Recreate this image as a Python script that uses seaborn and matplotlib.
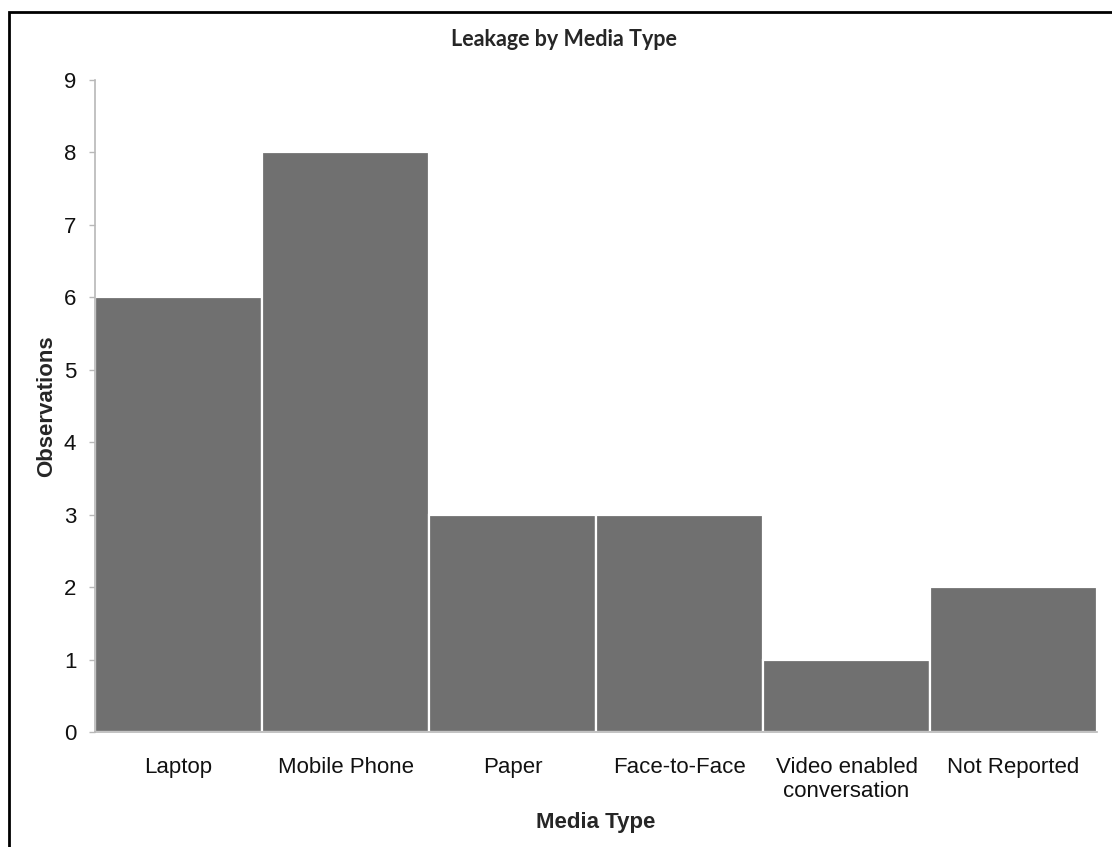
import matplotlib
matplotlib.use('Agg')
import matplotlib.pyplot as plt
import seaborn as sns
import pandas as pd
from matplotlib.patches import Rectangle

media_types = ['Laptop', 'Mobile Phone', 'Paper', 'Face-to-Face',
               'Video enabled\nconversation', 'Not Reported']
observations = [6, 8, 3, 3, 1, 2]
y_ticks = [0, 1, 2, 3, 4, 5, 6, 7, 8, 9]

df = pd.DataFrame({'media': media_types, 'obs': observations})

sns.set_style('white')
plt.rcParams['font.family'] = ['Liberation Sans', 'DejaVu Sans']

fig = plt.figure(figsize=(11.12, 8.47), dpi=100)
ax = fig.add_axes([95 / 1112, 115 / 847, 1002 / 1112, 652 / 847])

sns.barplot(data=df, x='media', y='obs', color='#707070', width=1.0,
            saturation=1, edgecolor='white', linewidth=1.6, ax=ax)

ax.set_xlim(-0.5, 5.5)
ax.set_ylim(0, 9)
ax.set_yticks(y_ticks)
ax.set_yticklabels([str(t) for t in y_ticks])

for side in ['top', 'right']:
    ax.spines[side].set_visible(False)
for side in ['left', 'bottom']:
    ax.spines[side].set_color('#b8b8b8')
    ax.spines[side].set_linewidth(1.2)

ax.tick_params(axis='y', left=True, length=4.5, width=1, color='#b8b8b8',
               pad=9, labelsize=16, labelcolor='#111111')
ax.tick_params(axis='x', bottom=False, length=0, pad=18,
               labelsize=16, labelcolor='#111111')

ax.set_xlabel('Media Type', fontsize=16, fontweight='bold', labelpad=7)
ax.set_ylabel('Observations', fontsize=16, fontweight='bold', labelpad=5)

fig.text(0.507, 1 - 40 / 847, 'Leakage by Media Type', ha='center',
         va='center', fontsize=15.5, fontweight='bold', family=['Lato', 'DejaVu Sans'])

# frame around the chart area
fig.patches.append(Rectangle((9 / 1112, -0.1), 1.2, (847 - 12) / 847 + 0.1,
                             transform=fig.transFigure, fill=False,
                             edgecolor='black', linewidth=2))

fig.savefig('out.png', dpi=100, facecolor='white')
